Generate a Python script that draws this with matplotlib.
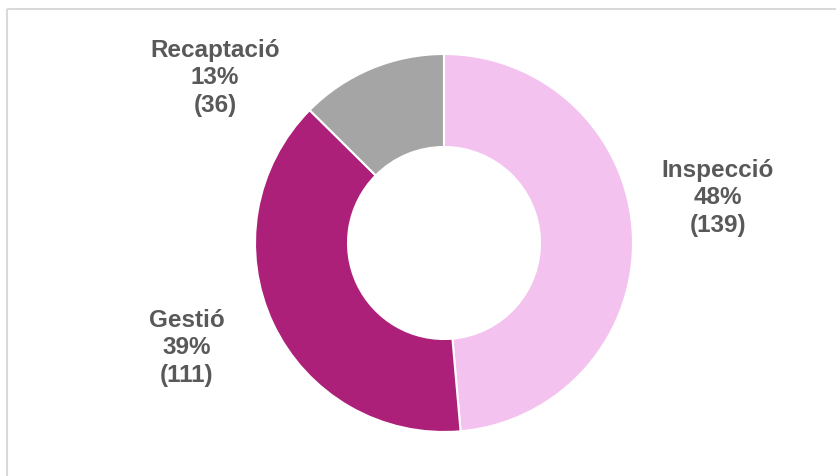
import matplotlib.pyplot as plt
from matplotlib.patches import Rectangle

# dades
categories = ['Inspecció', 'Gestió', 'Recaptació']
values = [139, 111, 36]
percents = [48, 39, 13]
colors = ['#F4C2EF', '#AD2079', '#A5A5A5']
# posicio de les etiquetes (px)
label_pos = [(718, 198), (187, 348), (215, 78)]

plt.rcParams['font.family'] = ['Liberation Sans', 'DejaVu Sans']

fig = plt.figure(figsize=(8.36, 4.77), dpi=100)
ax = fig.add_axes([0, 0, 1, 1])

wedges, _ = ax.pie(values, colors=colors, startangle=-90, counterclock=True,
                   center=(444, 244), radius=189,
                   wedgeprops=dict(width=93, edgecolor='white', linewidth=1.5))

# pie canvia els limits: coordenades en pixels, y invertit
# (amb y invertit el sentit antihorari es veu horari)
ax.set_xlim(0, 836)
ax.set_ylim(477, 0)
ax.set_aspect('equal')
ax.axis('off')

# marc gris
ax.add_patch(Rectangle((6.5, 9.5), 900, 600, fill=False, edgecolor='#D9D9D9', lw=1.5))

for cat, v, p, (x, y) in zip(categories, values, percents, label_pos):
    ax.text(x, y, f'{cat}\n{p}%\n({v})', ha='center', va='center',
            fontsize=17.5, fontweight='bold', color='#595959', linespacing=1.25)

fig.savefig('out.png', dpi=100)
